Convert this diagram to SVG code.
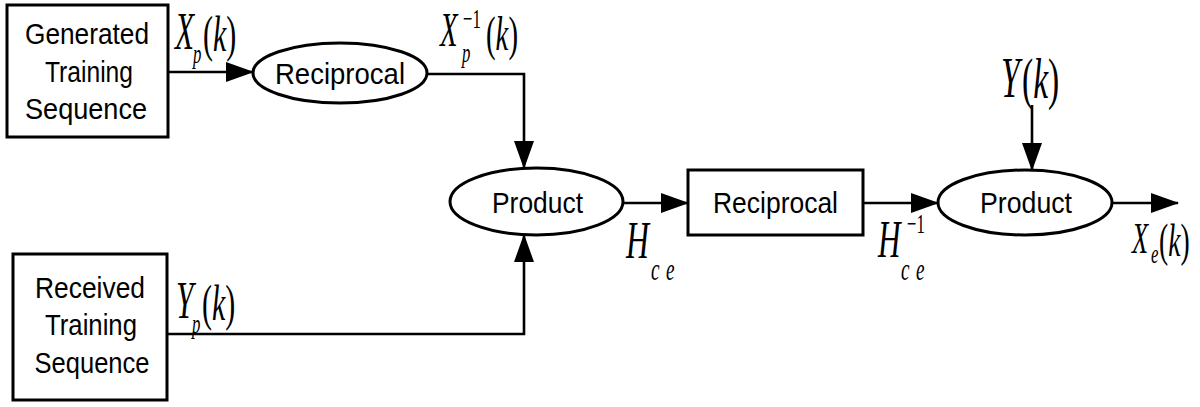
<svg xmlns="http://www.w3.org/2000/svg" width="1200" height="407" viewBox="0 0 1200 407">
<style>
.shape{fill:#fff;stroke:#000;stroke-width:3}
.lbl{font-family:"Liberation Sans",Arial,sans-serif;font-size:30px;fill:#000;text-anchor:middle}
.conn{fill:none;stroke:#000;stroke-width:2.6}
.m{font-family:"Liberation Serif","Times New Roman",serif;fill:#000}
.i{font-style:italic}
</style>
<defs>
<marker id="ah" markerUnits="userSpaceOnUse" markerWidth="28" markerHeight="20" refX="27" refY="10" orient="auto">
<path d="M0,0 L28,10 L0,20 Z" fill="#000"/>
</marker>
</defs>
<rect width="1200" height="407" fill="#fff"/>
<g id="connectors">
<path class="conn" d="M168,72 H253" marker-end="url(#ah)"/>
<path class="conn" d="M427,74 H524 V168" marker-end="url(#ah)"/>
<path class="conn" d="M167,334 H524 V235" marker-end="url(#ah)"/>
<path class="conn" d="M623,203 H688" marker-end="url(#ah)"/>
<path class="conn" d="M863,203 H938" marker-end="url(#ah)"/>
<path class="conn" d="M1112,203 H1178" marker-end="url(#ah)"/>
<path class="conn" d="M1032,105 V170" marker-end="url(#ah)"/>
</g>
<g id="gen">
<rect class="shape" x="7" y="5" width="161" height="132"/>
<text class="lbl" x="87" y="44" textLength="124" lengthAdjust="spacingAndGlyphs">Generated</text>
<text class="lbl" x="89" y="82" textLength="88" lengthAdjust="spacingAndGlyphs">Training</text>
<text class="lbl" x="86" y="119" textLength="122" lengthAdjust="spacingAndGlyphs">Sequence</text>
</g>
<g id="recv">
<rect class="shape" x="13" y="254" width="154" height="146"/>
<text class="lbl" x="90" y="298" textLength="110" lengthAdjust="spacingAndGlyphs">Received</text>
<text class="lbl" x="91" y="335" textLength="92" lengthAdjust="spacingAndGlyphs">Training</text>
<text class="lbl" x="92" y="373" textLength="115" lengthAdjust="spacingAndGlyphs">Sequence</text>
</g>
<g id="recip1">
<ellipse class="shape" cx="340" cy="73" rx="87" ry="30"/>
<text class="lbl" x="340" y="84" textLength="130" lengthAdjust="spacingAndGlyphs">Reciprocal</text>
</g>
<g id="prod1">
<ellipse class="shape" cx="536.5" cy="201.5" rx="86.5" ry="33.5"/>
<text class="lbl" x="537.5" y="213" textLength="91" lengthAdjust="spacingAndGlyphs">Product</text>
</g>
<g id="recip2">
<rect class="shape" x="688" y="170" width="175" height="65"/>
<text class="lbl" x="775.5" y="213" textLength="125" lengthAdjust="spacingAndGlyphs">Reciprocal</text>
</g>
<g id="prod2">
<ellipse class="shape" cx="1025" cy="202.5" rx="87" ry="32.5"/>
<text class="lbl" x="1026" y="213" textLength="92" lengthAdjust="spacingAndGlyphs">Product</text>
</g>
<g id="labels" transform="scale(0.6,1)">
<text class="m i" x="291.67" y="49" font-size="52">X</text>
<text class="m i" x="321.67" y="63" font-size="28">p</text>
<text class="m" x="338.33" y="51" font-size="50">(<tspan class="i">k</tspan>)</text>

<text class="m i" x="733.33" y="46" font-size="48">X</text>
<text class="m" x="771.67" y="28" font-size="28">−1</text>
<text class="m i" x="770" y="62" font-size="28">p</text>
<text class="m" x="810" y="50" font-size="48">(<tspan class="i">k</tspan>)</text>

<text class="m i" x="1043.33" y="258" font-size="53">H</text>
<text class="m i" font-size="32" y="280"><tspan x="1085">c</tspan><tspan x="1110">e</tspan></text>

<text class="m i" x="1463.33" y="257" font-size="52">H</text>
<text class="m" x="1511.67" y="233" font-size="28">−1</text>
<text class="m i" font-size="32" y="280"><tspan x="1501.67">c</tspan><tspan x="1526.67">e</tspan></text>

<text class="m i" x="1668.33" y="97" font-size="56">Y</text>
<text class="m" x="1703.33" y="98" font-size="56">(<tspan class="i">k</tspan>)</text>

<text class="m i" x="1886.67" y="253" font-size="44">X</text>
<text class="m i" x="1918.33" y="263" font-size="28">e</text>
<text class="m" x="1931.67" y="256" font-size="46">(<tspan class="i">k</tspan>)</text>

<text class="m i" x="293.33" y="318" font-size="52">Y</text>
<text class="m i" x="320" y="333" font-size="28">p</text>
<text class="m" x="336.67" y="320" font-size="50">(<tspan class="i">k</tspan>)</text>
</g>
</svg>
